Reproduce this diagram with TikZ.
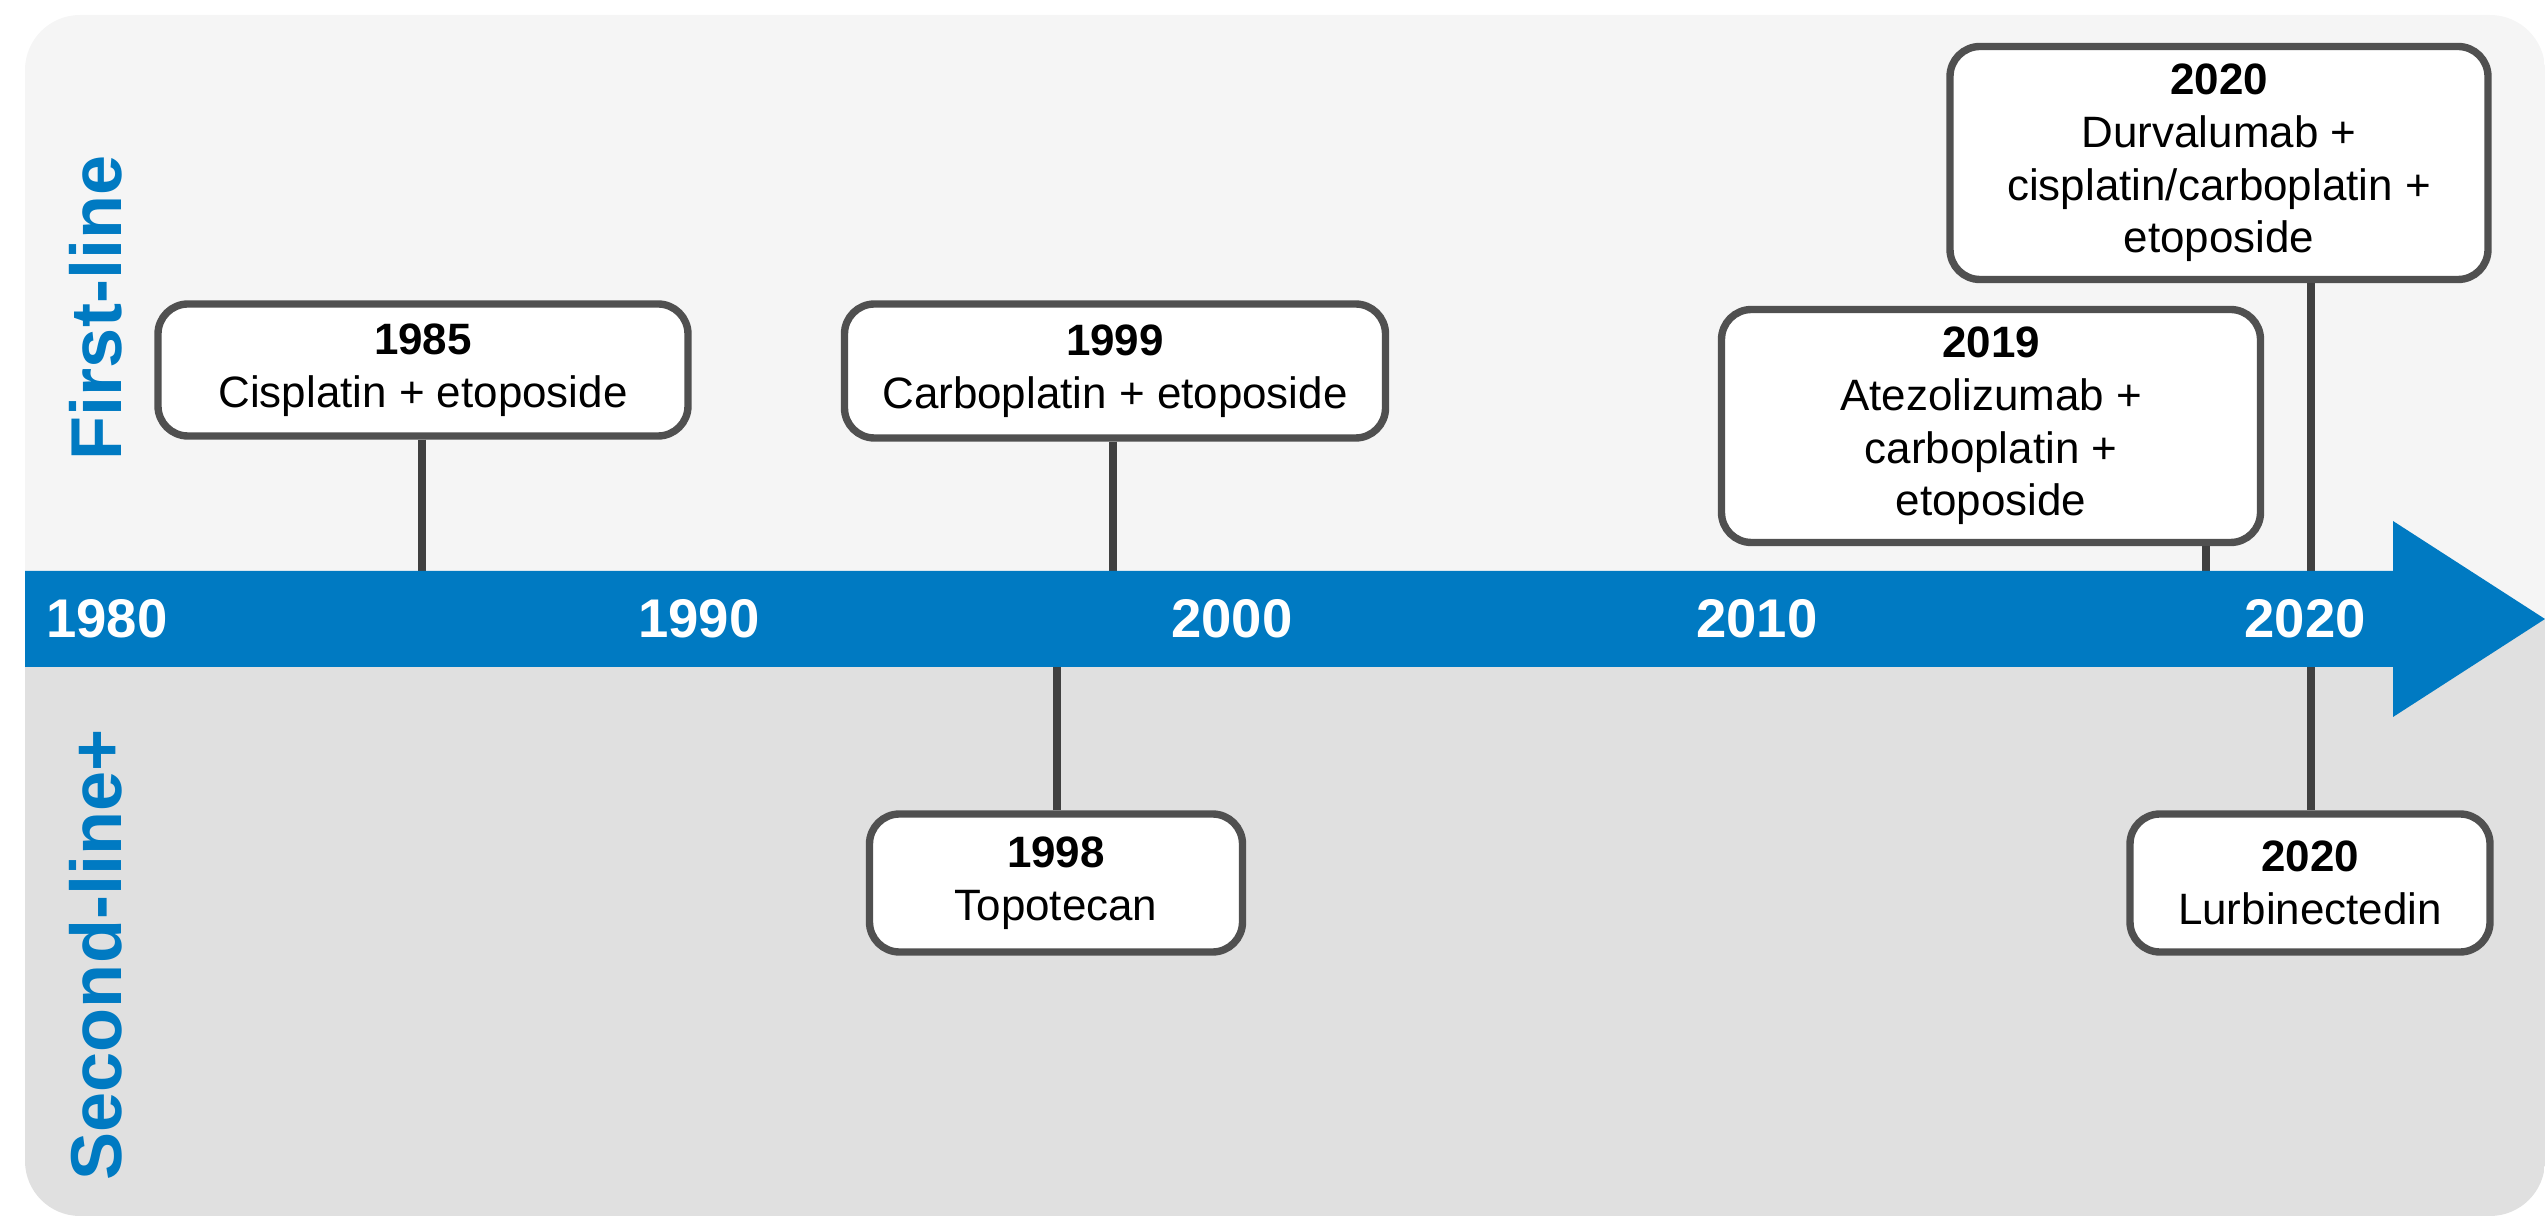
\documentclass[tikz,border=0pt]{standalone}
\usepackage{fontspec}
\setmainfont{Liberation Sans}
\usetikzlibrary{positioning}
\definecolor{tlblue}{RGB}{0,122,194}
\definecolor{bghigh}{RGB}{245,245,245}
\definecolor{bglow}{RGB}{224,224,224}
\definecolor{boxgray}{RGB}{80,80,80}
\definecolor{linegray}{RGB}{64,64,64}

\begin{document}
\begin{tikzpicture}[
  event/.style={draw=boxgray, fill=white, line width=2.1pt, rounded corners=0.3cm, align=center, inner sep=0pt, font=\fontsize{12.5}{15}\selectfont},
  year/.style={text=white, font=\bfseries\fontsize{15.5}{18}\selectfont},
  side/.style={text=tlblue, rotate=90, font=\bfseries\fontsize{20.5}{24}\selectfont},
  stem/.style={linegray, line width=2.3pt}]
\useasboundingbox (0,0) rectangle (25.45,-12.16);

% background, light above the arrow, darker below
\begin{scope}
\clip[rounded corners=0.55cm] (0.25,-0.15) rectangle (25.45,-12.16);
\fill[bghigh] (0,0) rectangle (25.45,-6.19);
\fill[bglow] (0,-6.19) rectangle (25.45,-12.16);
\end{scope}

\node[side] (first) at (0.96,-3.08) {First-line};
\node[side] (second) at (0.96,-9.55) {Second-line+};

% first-line events
\node[event, minimum width=5.3cm, minimum height=1.32cm] (e1985) at (4.23,-3.70) {\textbf{1985}\\Cisplatin + etoposide};
\node[event, minimum width=5.41cm, minimum height=1.34cm] (e1999) at (11.15,-3.71) {\textbf{1999}\\Carboplatin + etoposide};
\node[event, minimum width=5.39cm, minimum height=2.33cm] (e2019) at (19.91,-4.26) {\textbf{2019}\\Atezolizumab +\\carboplatin +\\etoposide};
\node[event, minimum width=5.38cm, minimum height=2.33cm] (e2020a) at (22.19,-1.63) {\textbf{2020}\\Durvalumab +\\cisplatin/carboplatin +\\etoposide};
% second-line events
\node[event, minimum width=3.73cm, minimum height=1.38cm] (e1998) at (10.56,-8.83) {\textbf{1998}\\Topotecan};
\node[event, minimum width=3.6cm, minimum height=1.38cm] (e2020b) at (23.10,-8.83) {\textbf{2020}\\Lurbinectedin};

% where the stems meet the arrow
\coordinate (t1985) at (4.22,-6.19);
\coordinate (t1999) at (11.13,-6.19);
\coordinate (t1998) at (10.57,-6.19);
\coordinate (t2019) at (22.06,-6.19);
\coordinate (t2020) at (23.11,-6.19);

\draw[stem] (e1985.south -| t1985) -- (t1985);
\draw[stem] (e1999.south -| t1999) -- (t1999);
\draw[stem] (e2019.south -| t2019) -- (t2019);
\draw[stem] (e1998.north -| t1998) -- (t1998);
\draw[stem] (e2020a.south -| t2020) -- (e2020b.north -| t2020);

% the time arrow
\fill[tlblue] (0.25,-5.71) -- (23.93,-5.71) -- (23.93,-5.21) -- (25.45,-6.19)
  -- (23.93,-7.17) -- (23.93,-6.67) -- (0.25,-6.67) -- cycle;

\foreach \yr/\x in {1980/1.07, 1990/6.99, 2000/12.32, 2010/17.57, 2020/23.05}
  \node[year] (y\yr) at (\x,-6.19) {\yr};
\end{tikzpicture}
\end{document}
